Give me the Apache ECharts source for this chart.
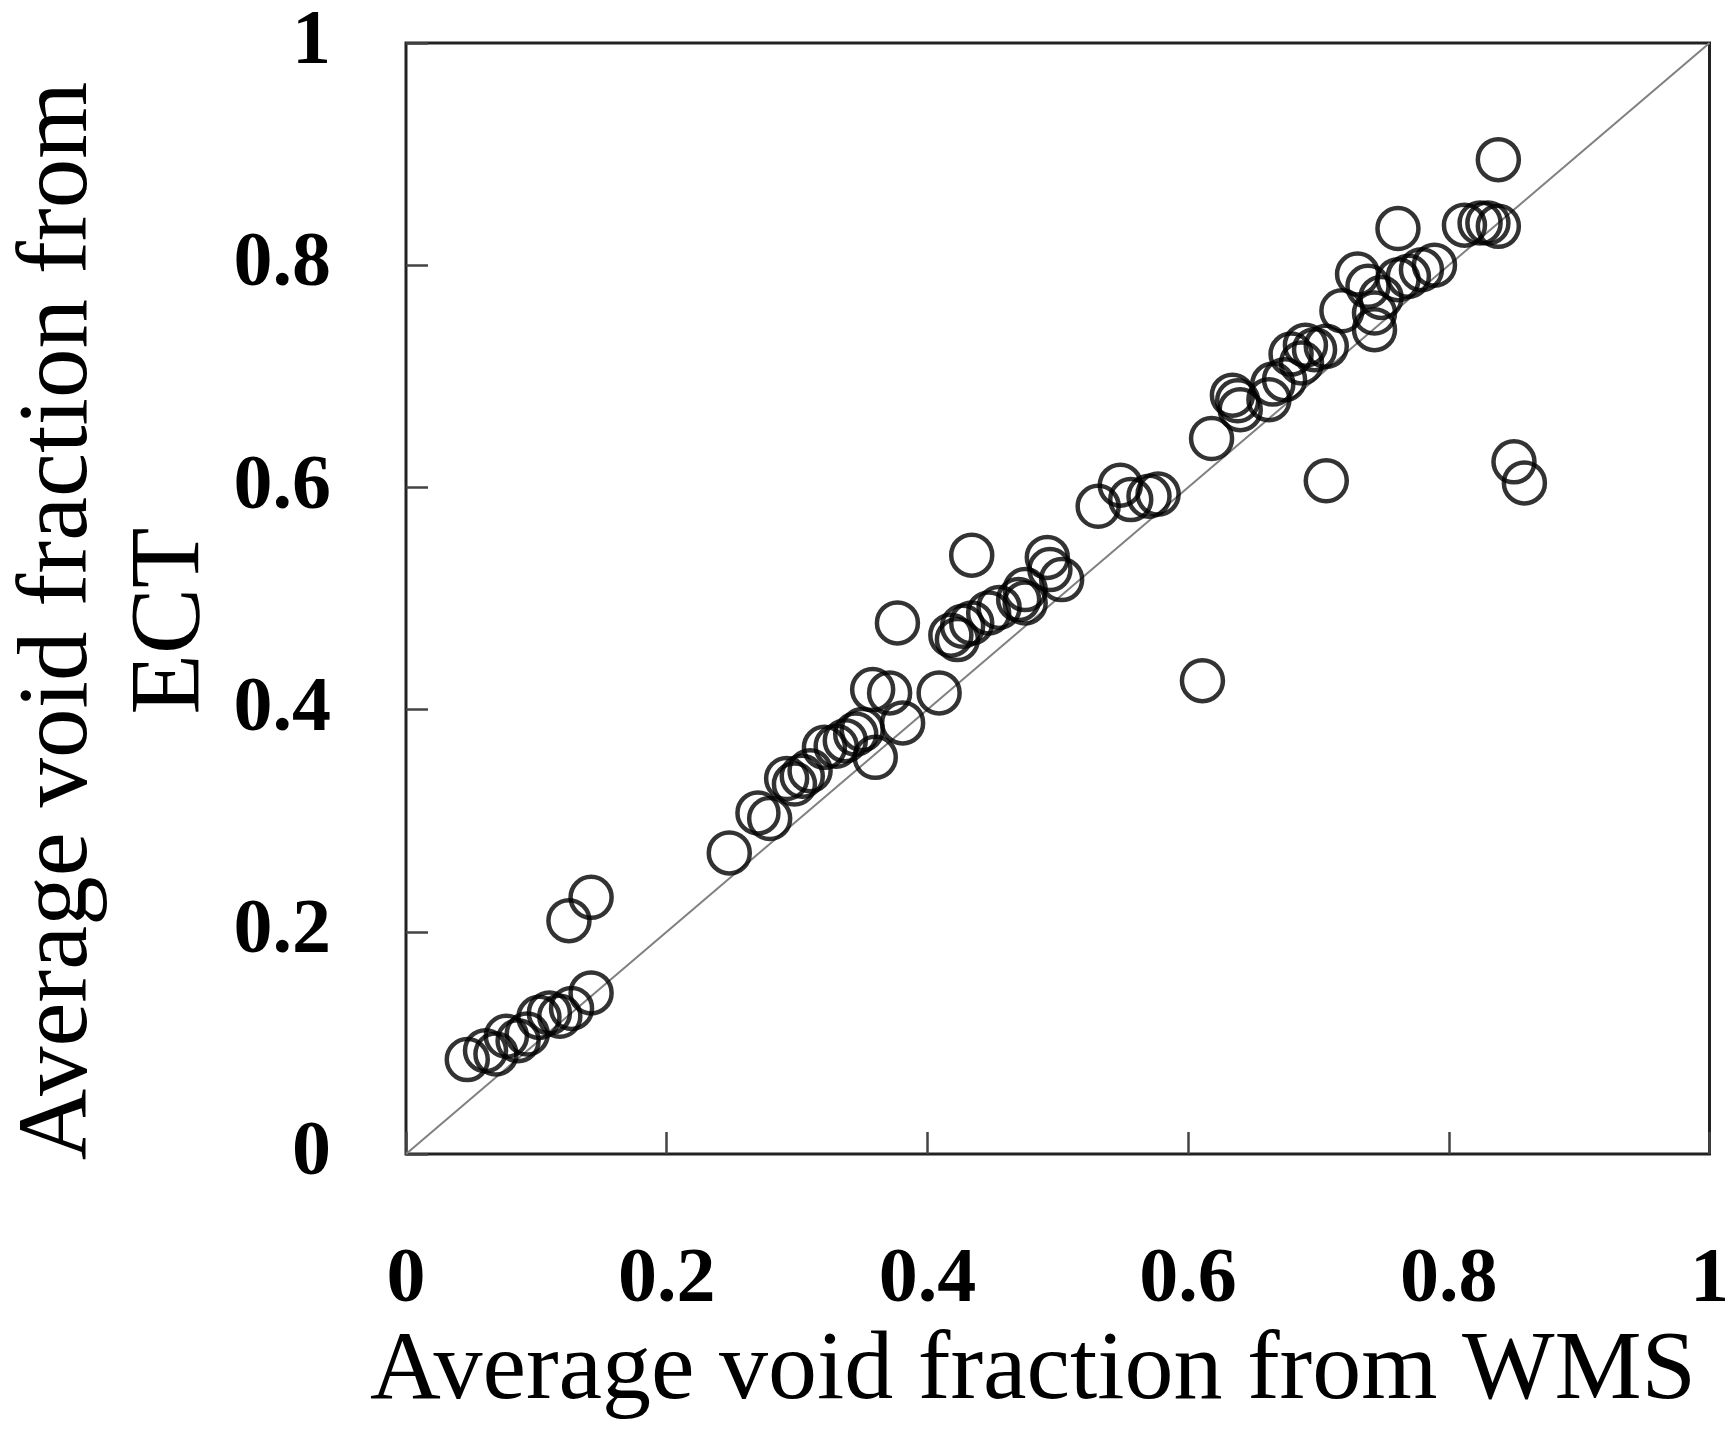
<!DOCTYPE html>
<html>
<head>
<meta charset="utf-8">
<script src="https://cdn.jsdelivr.net/npm/echarts@6/dist/echarts.min.js"></script>
<style>
html,body{margin:0;padding:0;background:#fff;}
#chart{width:1732px;height:1433px;}
</style>
</head>
<body>
<div id="chart"></div>
<script>
// Average void fraction from WMS (x)
const wmsVoid = [0.047,0.061,0.069,0.077,0.086,0.093,0.102,0.110,0.118,0.127,0.142,0.125,0.142,
  0.248,0.270,0.279,0.292,0.298,0.304,0.310,0.321,0.330,0.337,0.345,0.350,0.360,0.358,0.371,0.381,0.409,
  0.377,0.418,0.423,0.427,0.434,0.447,0.455,0.434,0.470,0.475,0.475,0.492,0.494,0.503,
  0.531,0.548,0.556,0.570,0.577,0.618,0.634,0.638,0.640,0.662,0.665,0.674,0.679,0.687,0.690,0.697,0.706,
  0.718,0.730,0.738,0.743,0.743,0.748,0.761,0.761,0.769,0.779,0.789,0.812,0.824,0.830,0.838,0.838,
  0.611,0.706,0.850,0.858];
// Average void fraction from ECT (y)
const ectVoid = [0.085,0.093,0.090,0.106,0.102,0.108,0.123,0.127,0.124,0.131,0.145,0.210,0.231,
  0.271,0.307,0.302,0.338,0.333,0.340,0.345,0.366,0.367,0.372,0.378,0.382,0.357,0.418,0.415,0.388,0.415,
  0.478,0.467,0.463,0.475,0.478,0.487,0.492,0.539,0.499,0.508,0.496,0.537,0.526,0.517,
  0.583,0.602,0.589,0.592,0.594,0.644,0.683,0.678,0.670,0.679,0.693,0.697,0.720,0.712,0.728,0.724,0.727,
  0.759,0.792,0.781,0.742,0.757,0.771,0.833,0.787,0.790,0.796,0.800,0.836,0.838,0.838,0.835,0.895,
  0.426,0.606,0.623,0.604];
// Parity line end points
const parityX = [0, 1];
const parityY = [0, 1];
const tickValues = [0, 0.2, 0.4, 0.6, 0.8, 1];
const xTitle = 'Average void fraction from WMS';
const yTitle = 'Average void fraction from\nECT';

const scatterData = wmsVoid.map((v, i) => [v, ectVoid[i]]);
const lineData = parityX.map((v, i) => [v, parityY[i]]);

const chart = echarts.init(document.getElementById('chart'), null, {renderer: 'canvas'});
const labelStyle = {
  fontFamily: 'Liberation Serif',
  fontWeight: 'bold',
  fontSize: 78,
  color: '#000',
  formatter: v => tickValues.includes(+v.toFixed(1)) ? String(+v.toFixed(1)) : ''
};
chart.setOption({
  animation: false,
  backgroundColor: '#fff',
  grid: {left: 406, right: 20, top: 43, bottom: 279, show: true, borderColor: '#222', borderWidth: 3, backgroundColor: 'transparent'},
  xAxis: {
    type: 'value', min: 0, max: 1, interval: 0.2,
    axisLine: {show: false},
    axisTick: {show: true, inside: true, length: 22, lineStyle: {color: '#444', width: 2.5}},
    splitLine: {show: false},
    axisLabel: Object.assign({margin: 88}, labelStyle)
  },
  yAxis: {
    type: 'value', min: 0, max: 1, interval: 0.2,
    axisLine: {show: false},
    axisTick: {show: true, inside: true, length: 22, lineStyle: {color: '#444', width: 2.5}},
    splitLine: {show: false},
    axisLabel: Object.assign({margin: 75}, labelStyle)
  },
  series: [
    {
      type: 'line', data: lineData, symbol: 'none', silent: true,
      lineStyle: {color: '#808080', width: 2}, z: 1
    },
    {
      type: 'scatter', data: scatterData, symbol: 'circle', symbolSize: 41,
      itemStyle: {color: 'rgba(0,0,0,0)', borderColor: '#000', borderWidth: 4.5},
      z: 2
    }
  ],
  graphic: [
    {
      type: 'text', x: 1033, y: 1372,
      style: {
        text: xTitle, fontFamily: 'Liberation Serif', fontSize: 98, fill: '#000',
        align: 'center', verticalAlign: 'middle', textAlign: 'center', textVerticalAlign: 'middle'
      }
    },
    {
      type: 'text', x: 116, y: 621, rotation: Math.PI / 2,
      style: {
        text: yTitle, fontFamily: 'Liberation Serif', fontSize: 99, lineHeight: 112, fill: '#000',
        align: 'center', verticalAlign: 'middle', textAlign: 'center', textVerticalAlign: 'middle'
      }
    }
  ]
});
</script>
</body>
</html>
